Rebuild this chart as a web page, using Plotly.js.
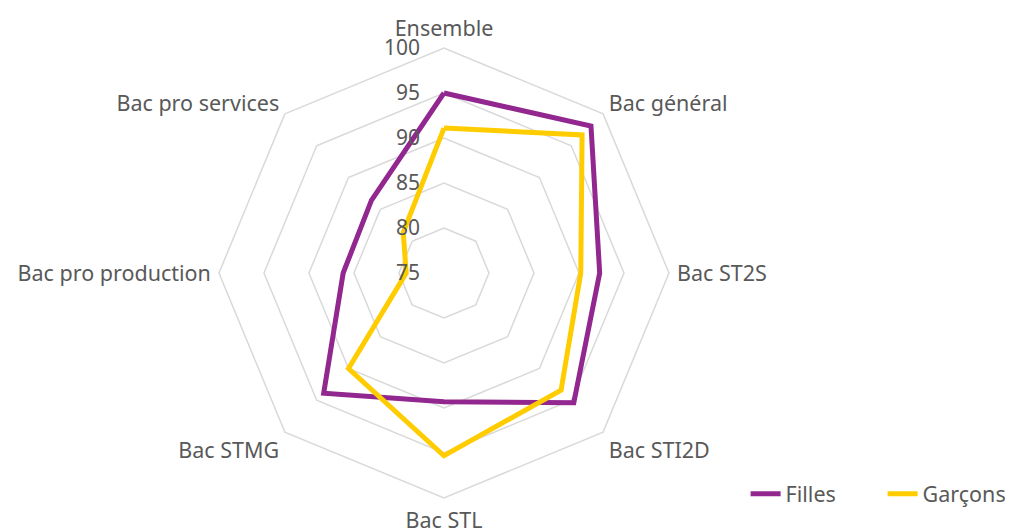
<!DOCTYPE html>
<html><head><meta charset="utf-8">
<script src="https://cdn.plot.ly/plotly-3.0.1.min.js"></script>
<style>html,body{margin:0;padding:0;background:#fff}#chart{width:1027px;height:531px}</style>
</head><body><div id="chart"></div>
<script>
const categories = ["Ensemble","Bac général","Bac ST2S","Bac STI2D","Bac STL","Bac STMG","Bac pro production","Bac pro services"];
const filles = [95.0, 98.1, 92.3, 95.4, 89.3, 93.9, 86.2, 86.4];
const garcons = [91.1, 96.7, 90.2, 93.4, 95.3, 90.0, 79.2, 81.4];
const radialTicks = [75, 80, 85, 90, 95, 100];

function closed(a){ return a.concat([a[0]]); }

const ff = "'Noto Sans', 'Open Sans', sans-serif";
const labelFont = {family: ff, color: "#595959", size: 21.5};
const numFont = {family: ff, color: "#595959", size: 21};

const traces = [
  {type:"scatterpolar", name:"Filles", r: closed(filles), theta: closed(categories), mode:"lines",
   line:{color:"#92278f", width:5}},
  {type:"scatterpolar", name:"Garçons", r: closed(garcons), theta: closed(categories), mode:"lines",
   line:{color:"#ffcc00", width:5}}
];

const layout = {
  width:1027, height:531,
  margin:{l:0,r:0,t:0,b:0},
  paper_bgcolor:"#fff",
  font: labelFont,
  showlegend:true,
  legend:{orientation:"h", x:0.726, xanchor:"left", y:0.07, yanchor:"middle", font:labelFont, bgcolor:"rgba(0,0,0,0)",
    entrywidth:92, itemwidth:30, tracegroupgap:0},
  polar:{
    domain:{x:[0.2132,0.6514], y:[0.0621,0.9096]},
    gridshape:"linear",
    bgcolor:"#fff",
    angularaxis:{direction:"clockwise", rotation:90, showgrid:false, showline:true, linecolor:"#d9d9d9", linewidth:1.5,
      ticks:"outside", ticklen:3, tickcolor:"rgba(0,0,0,0)", tickfont:labelFont},
    radialaxis:{range:[75,100], tickvals:radialTicks, angle:90, tickangle:90, side:"counterclockwise",
      showline:false, gridcolor:"#d9d9d9", gridwidth:1.5, ticks:"outside", ticklen:16, tickcolor:"rgba(0,0,0,0)",
      tickfont:numFont}
  }
};

Plotly.newPlot("chart", traces, layout, {displayModeBar:false, staticPlot:true});
</script></body></html>
